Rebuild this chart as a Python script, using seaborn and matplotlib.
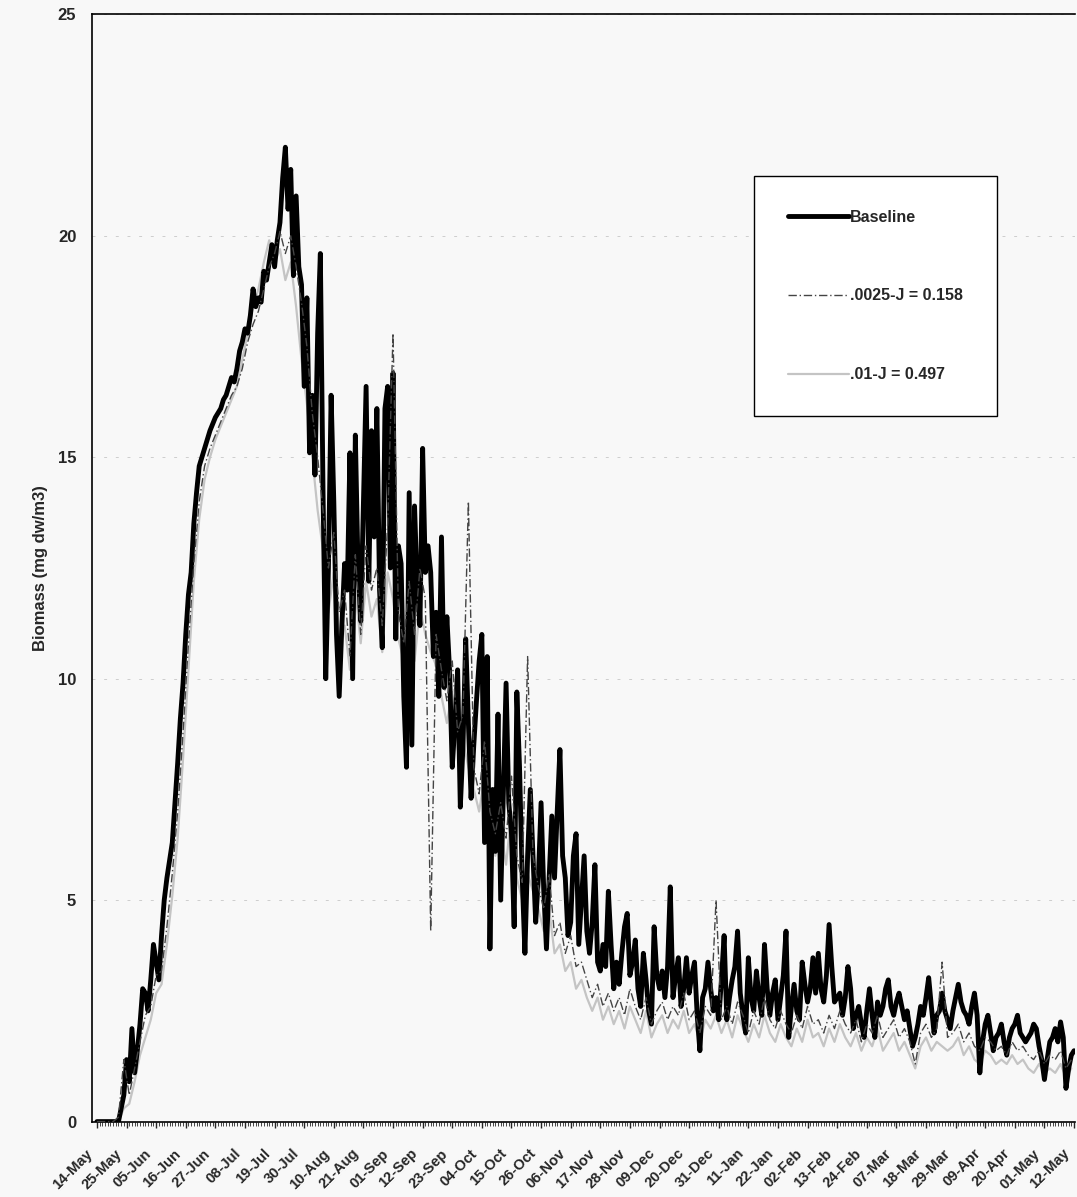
import pandas as pd
import seaborn as sns
import matplotlib.pyplot as plt
import matplotlib.transforms as mtransforms

# daily biomass, baseline run, starting 14-May
start = "2001-05-14"
baseline = [
    0, 0, 0, 0, 0, 0, 0, 0, 0, 0.3,
    0.6, 1.4, 0.9, 2.1, 1.1, 1.6, 2.2, 3.0, 2.9, 2.5,
    3.2, 4.0, 3.6, 3.2, 4.2, 5.0, 5.5, 5.9, 6.3, 7.2,
    8.1, 9.1, 9.9, 11.0, 11.9, 12.4, 13.5, 14.2, 14.8, 15.0,
    15.2, 15.4, 15.6, 15.75, 15.9, 16.0, 16.1, 16.3, 16.4, 16.6,
    16.8, 16.7, 17.0, 17.4, 17.6, 17.9, 17.8, 18.2, 18.8, 18.4,
    18.6, 18.5, 19.2, 19.0, 19.4, 19.8, 19.3, 19.9, 20.3, 21.3,
    22.0, 20.6, 21.5, 19.1, 20.9, 19.3, 18.9, 16.6, 18.6, 15.1,
    16.4, 14.6, 17.8, 19.6, 14.2, 10.0, 12.5, 16.4, 14.0, 11.0,
    9.6, 11.2, 12.6, 12.0, 15.1, 10.0, 15.5, 12.5, 11.3, 14.0,
    16.6, 12.2, 15.6, 13.2, 16.1, 12.0, 10.7, 16.1, 16.6, 12.5,
    16.9, 10.9, 13.0, 12.6, 9.6, 8.0, 14.2, 8.5, 13.9, 12.0,
    11.2, 15.2, 12.4, 13.0, 12.4, 10.5, 11.5, 9.6, 13.2, 9.8,
    11.4, 10.2, 8.0, 9.0, 10.2, 7.1, 8.5, 10.9, 9.0, 7.3,
    8.5, 9.5, 10.4, 11.0, 6.3, 10.5, 3.9, 7.5, 6.1, 9.2,
    5.0, 7.5, 9.9, 7.2, 6.5, 4.4, 9.7, 8.0, 5.5, 3.8,
    6.0, 7.5, 6.0, 4.5, 5.5, 7.2, 5.2, 3.9, 5.5, 6.9,
    5.5, 7.0, 8.4, 6.0, 5.5, 4.2, 4.5, 6.0, 6.5, 4.0,
    5.0, 6.0, 4.3, 3.8, 4.5, 5.8, 3.6, 3.4, 4.0, 3.5,
    5.2, 4.0, 3.0, 3.6, 3.1, 3.8, 4.4, 4.7, 3.3, 3.6,
    4.1, 3.0, 2.6, 3.8, 3.2, 2.5, 2.2, 4.4, 3.3, 3.0,
    3.4, 2.8, 3.5, 5.3, 2.8, 3.3, 3.7, 2.6, 3.0, 3.7,
    2.9, 3.3, 3.6, 2.4, 1.6, 2.8, 3.0, 3.6, 3.0, 2.5,
    2.8, 2.3, 3.2, 4.2, 2.3, 2.8, 3.2, 3.5, 4.3, 2.9,
    2.4, 2.0, 3.7, 2.8, 2.5, 3.4, 2.8, 2.4, 4.0, 3.0,
    2.4, 2.9, 3.2, 2.3, 2.8, 3.3, 4.3, 1.9, 2.6, 3.1,
    2.5, 2.3, 3.6, 3.1, 2.7, 3.0, 3.7, 2.9, 3.8, 3.0,
    2.7, 3.3, 4.45, 3.5, 2.7, 2.8, 2.9, 2.4, 2.8, 3.5,
    3.0, 2.1, 2.4, 2.6, 2.2, 1.9, 2.5, 3.0, 2.4, 1.9,
    2.7, 2.4, 2.6, 3.0, 3.2, 2.6, 2.4, 2.7, 2.9, 2.6,
    2.3, 2.5, 2.1, 1.7, 1.9, 2.2, 2.6, 2.4, 2.8, 3.25,
    2.6, 2.0, 2.4, 2.5, 2.9, 2.5, 2.3, 2.1, 2.5, 2.8,
    3.1, 2.7, 2.5, 2.4, 2.2, 2.6, 2.9, 2.4, 1.1, 1.8,
    2.2, 2.4, 2.0, 1.6, 1.9, 2.0, 2.2, 1.8, 1.5, 1.9,
    2.1, 2.2, 2.4, 2.0, 1.9, 1.8, 1.9, 2.0, 2.2, 2.1,
    1.7, 1.4, 0.95, 1.4, 1.8, 1.9, 2.1, 1.8, 2.25, 1.9,
    0.75, 1.2, 1.5, 1.6,
]

# the two J runs, read every second day
j0025 = [
    0, 0, 0, 0, 0.1, 1.4, 0.6, 1.2, 1.8, 2.4,
    2.6, 3.3, 3.4, 4.4, 5.6, 7.0, 8.8, 10.8, 12.6, 14.0,
    14.8, 15.2, 15.5, 15.8, 16.1, 16.4, 16.6, 17.0, 17.6, 18.0,
    18.3, 18.8, 19.3, 19.6, 20.1, 19.6, 20.0, 19.3, 18.5, 17.5,
    16.0, 15.0, 13.8, 12.5, 13.3, 11.5, 12.0, 10.5, 12.8, 11.0,
    13.0, 12.0, 12.5, 11.2, 13.5, 17.8, 11.5, 10.8, 12.2, 11.0,
    12.5, 11.8, 4.3, 11.0, 10.2, 9.5, 10.4, 8.8, 9.2, 14.0,
    8.0, 7.4, 8.6, 7.0, 6.5, 7.2, 6.4, 7.8, 6.0, 5.4,
    10.5, 6.0, 5.3, 4.8, 5.6, 4.2, 4.5, 3.8, 4.2, 3.5,
    3.6, 3.2, 2.8, 3.1, 2.6, 2.9, 2.5, 2.8, 2.4, 3.0,
    2.6, 2.3, 2.8, 2.2, 2.5, 2.7, 2.3, 2.6, 2.4, 2.9,
    2.3, 2.5, 2.0, 2.6, 2.4, 5.0, 2.3, 2.6, 2.2, 2.7,
    2.4, 2.0, 2.5, 2.2, 2.8, 2.3, 2.1, 2.5, 2.2, 2.0,
    2.4, 2.1, 2.6, 2.2, 2.3, 2.0, 2.4, 2.1, 2.5, 2.2,
    2.0, 2.3, 1.8, 2.2, 2.0, 2.4, 1.9, 2.1, 2.3, 1.9,
    2.1, 1.8, 1.3, 2.0, 2.2, 1.9, 2.1, 3.6, 1.9, 2.0,
    2.2, 1.8, 2.0, 1.7, 1.6, 1.9, 1.8, 1.6, 1.7, 1.5,
    1.8, 1.6, 1.7, 1.5, 1.4, 1.6, 1.3, 1.5, 1.4, 1.6,
    1.2, 1.4,
]
j01 = [
    0, 0, 0, 0, 0, 0.3, 0.4, 0.9, 1.5, 1.9,
    2.3, 2.9, 3.1, 4.0, 5.1, 6.4, 8.2, 10.2, 12.2, 13.6,
    14.5, 15.0, 15.4, 15.7, 16.0, 16.3, 16.6, 17.2, 17.8, 18.4,
    18.8, 19.4, 19.9, 19.4, 19.7, 19.0, 19.4, 18.4, 17.2, 16.2,
    15.0, 13.8, 12.9, 11.5, 12.4, 11.0, 11.2, 10.2, 12.0, 10.8,
    12.2, 11.4, 11.8, 10.6, 12.4, 11.8, 10.9, 10.4, 11.6, 10.4,
    11.6, 11.0, 10.6, 10.3, 9.6, 9.0, 9.7, 8.4, 8.6, 8.0,
    7.5, 7.0, 7.8, 6.5, 6.0, 6.6, 5.8, 7.0, 5.5, 5.0,
    5.6, 5.2, 4.8, 4.3, 4.8, 3.8, 4.0, 3.4, 3.6, 3.0,
    3.2, 2.8, 2.5, 2.8, 2.3, 2.6, 2.2, 2.5, 2.1, 2.6,
    2.3, 2.0, 2.5, 1.9, 2.2, 2.4, 2.0, 2.3, 2.1, 2.5,
    2.0, 2.2, 1.8, 2.3, 2.1, 2.4, 2.0, 2.3, 1.9, 2.4,
    2.1, 1.8, 2.2, 1.9, 2.4, 2.0, 1.8, 2.2, 1.9, 1.7,
    2.1, 1.8, 2.3, 1.9, 2.0, 1.7, 2.1, 1.8, 2.2, 1.9,
    1.7, 2.0, 1.6, 1.9, 1.7, 2.1, 1.6, 1.8, 2.0, 1.6,
    1.8, 1.5, 1.2, 1.7, 1.9, 1.6, 1.8, 1.7, 1.6, 1.7,
    1.9, 1.5, 1.7, 1.4, 1.3, 1.6, 1.5, 1.3, 1.4, 1.3,
    1.5, 1.3, 1.4, 1.2, 1.1, 1.3, 1.1, 1.2, 1.1, 1.3,
    1.0, 1.2,
]

tick_labels = ["14-May", "25-May", "05-Jun", "16-Jun", "27-Jun", "08-Jul", "19-Jul",
               "30-Jul", "10-Aug", "21-Aug", "01-Sep", "12-Sep", "23-Sep", "04-Oct",
               "15-Oct", "26-Oct", "06-Nov", "17-Nov", "28-Nov", "09-Dec", "20-Dec",
               "31-Dec", "11-Jan", "22-Jan", "02-Feb", "13-Feb", "24-Feb", "07-Mar",
               "18-Mar", "29-Mar", "09-Apr", "20-Apr", "01-May", "12-May"]
y_ticks = [0, 5, 10, 15, 20, 25]

df_base = pd.DataFrame({"date": pd.date_range(start, periods=len(baseline), freq="D"),
                        "biomass": baseline})
df_a = pd.DataFrame({"date": pd.date_range(start, periods=len(j0025), freq="2D"),
                     "biomass": j0025})
df_b = pd.DataFrame({"date": pd.date_range(start, periods=len(j01), freq="2D"),
                     "biomass": j01})

sns.set_style("ticks")
plt.rcParams['font.family'] = ['Liberation Sans', 'DejaVu Sans']
plt.rcParams['font.weight'] = 'bold'

bg = '#f8f8f8'
fig = plt.figure(figsize=(10.77, 11.97), dpi=100, facecolor=bg)
ax = fig.add_axes([0.085, 0.063, 0.913, 0.925])
ax.set_facecolor(bg)

sns.lineplot(data=df_b, x="date", y="biomass", ax=ax, color='#c4c4c4', lw=1.6,
             label='.01-J = 0.497', zorder=2)
sns.lineplot(data=df_base, x="date", y="biomass", ax=ax, color='black', lw=3.5,
             label='Baseline', zorder=3)
sns.lineplot(data=df_a, x="date", y="biomass", ax=ax, color='#444444', lw=1.0,
             linestyle=(0, (6, 2, 1, 2)), label='.0025-J = 0.158', zorder=4)

tick_dates = pd.date_range(start, periods=len(tick_labels), freq="11D")
ax.set_xticks(tick_dates)
ax.set_xticklabels(tick_labels, rotation=45, ha='right', va='center', rotation_mode='anchor',
                   fontsize=10.5, fontweight='bold')
ax.set_xticks(pd.date_range(start, periods=364, freq="D"), minor=True)
ax.tick_params(axis='x', which='major', length=4, width=1, pad=6)
ax.tick_params(axis='x', which='minor', length=3, width=0.6)
ax.set_xlim(pd.Timestamp(start) - pd.Timedelta(days=2), pd.Timestamp(start) + pd.Timedelta(days=363.3))

# excel puts the slanted labels a bit left of and below each tick
# (has to come after tick_params, which resets the label transforms)
shift = mtransforms.ScaledTranslation(-5 / 72, -11.5 / 72, fig.dpi_scale_trans)
for lbl in ax.get_xticklabels():
    lbl.set_transform(lbl.get_transform() + shift)

ax.set_ylim(0, 25)
ax.set_yticks(y_ticks)
ax.set_yticklabels([str(v) for v in y_ticks], fontsize=12, fontweight='bold')
ax.tick_params(axis='y', length=0, pad=11)
ax.grid(axis='y', color='#aaaaaa', lw=0.7, linestyle=(0, (3, 9)), alpha=0.55, zorder=0)

ax.set_xlabel('')
ax.set_ylabel('Biomass (mg dw/m3)', fontsize=12, fontweight='bold', labelpad=7)

for s in ['left', 'bottom', 'top']:
    ax.spines[s].set_color('black')
    ax.spines[s].set_linewidth(1.2)
ax.spines['right'].set_visible(False)

h, l = ax.get_legend_handles_labels()
order = [l.index('Baseline'), l.index('.0025-J = 0.158'), l.index('.01-J = 0.497')]
leg = ax.legend([h[i] for i in order], [l[i] for i in order],
                loc='upper left', bbox_to_anchor=(0.674, 0.854),
                fontsize=11.5, frameon=True, fancybox=False, edgecolor='black',
                facecolor='white', framealpha=1, borderpad=2.1, labelspacing=4.0,
                handlelength=3.8, handletextpad=0.1, borderaxespad=0)
leg.get_frame().set_linewidth(1.0)
for t in leg.get_texts():
    t.set_fontweight('bold')

fig.savefig('out.png', dpi=100, facecolor=bg)
